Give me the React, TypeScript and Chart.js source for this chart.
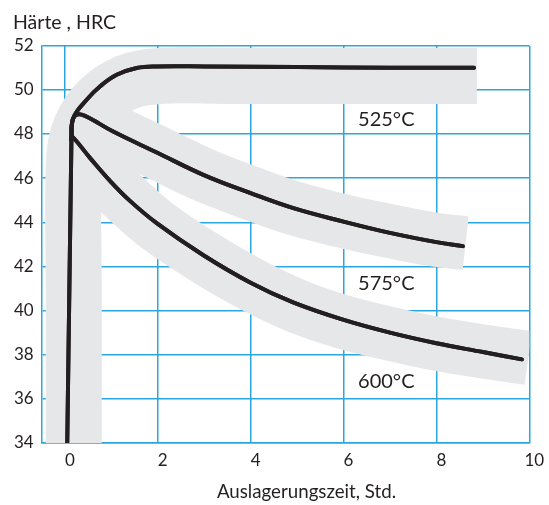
import React, { useEffect, useRef } from 'react';
import { Chart, registerables } from 'chart.js';

Chart.register(...registerables);

// ---- text ----
const yAxisTitle = 'Härte , HRC';
const xAxisTitle = 'Auslagerungszeit, Std.';

// ---- axes ----
const xMin = -0.5;
const xMax = 10;
const xTickValues = [0, 2, 4, 6, 8, 10];
const yMin = 34;
const yMax = 52;
const yStep = 2;

// ---- measured curves: [time h, hardness HRC] ----
// common steep rise shared by all three temperatures
const commonRise: [number, number][] = [[0.05, 34], [0.14, 47.74]];
const curve525: [number, number][] = [
  [0.14, 47.74], [0.183, 48.73], [0.468, 49.55], [0.754, 50.15], [1.114, 50.68],
  [1.545, 50.99], [1.976, 51.06], [3, 51.06], [5, 51.03], [7, 51.0], [8.81, 51.0],
];
const curve575: [number, number][] = [
  [0.14, 47.74], [0.155, 48.55], [0.252, 48.87], [0.431, 48.82], [1.04, 48.11],
  [1.98, 47.16], [2.98, 46.15], [4, 45.32], [4.92, 44.64], [6, 44.03], [7, 43.52],
  [8, 43.1], [8.57, 42.92],
];
const curve600: [number, number][] = [
  [0.14, 47.74], [0.157, 47.88], [0.539, 46.92], [0.97, 45.88], [1.401, 44.97],
  [1.983, 43.95], [2.974, 42.52], [4.009, 41.25], [4.914, 40.37], [5.97, 39.6],
  [7, 39.0], [8, 38.52], [9, 38.12], [9.84, 37.79],
];

// ---- scatter bands (centre lines) ----
const band525: [number, number][] = [
  [0.19, 34], [0.19, 41], [0.194, 46.78], [0.334, 48.26], [0.731, 49.51],
  [1.325, 50.34], [2.026, 50.63], [3.5, 50.63], [8.87, 50.63],
];
const band575: [number, number][] = [
  [0.43, 48.82], [1.04, 48.11], [1.98, 47.16], [2.98, 46.15], [4, 45.32], [4.92, 44.64],
  [6, 44.05], [7, 43.6], [8, 43.2], [8.63, 43.05],
];
const band600: [number, number][] = [
  [0.2, 47.55], [0.539, 46.85], [0.97, 45.8], [1.401, 44.9], [1.983, 43.85], [2.974, 42.45],
  [4, 41.2], [5, 40.2], [6, 39.48], [7, 38.95], [8, 38.5], [9, 38.15], [9.98, 37.85],
];

// ---- curve labels ----
const tempLabels = ['525°C', '575°C', '600°C'];
const tempLabelX = [6.92, 6.92, 6.92];
const tempLabelY = [48.64, 41.24, 36.8];

// ---- styles ----
const INK = '#231f20';
const GRID = '#2ba6de';
const BAND = '#e6e7e8';
const FONT = 'Lato';

const toXY = (pts: [number, number][]) => pts.map(([x, y]) => ({ x, y }));

const overlayPlugin = {
  id: 'overlay',
  afterDraw(chart: any) {
    const { ctx, chartArea, scales } = chart;
    // redraw the black curves above the grid
    ctx.save();
    ctx.beginPath();
    ctx.rect(chartArea.left, chartArea.top, chartArea.right - chartArea.left, chartArea.bottom - chartArea.top);
    ctx.clip();
    chart.data.datasets.forEach((ds: any, i: number) => {
      if (ds.isCurve) chart.getDatasetMeta(i).controller.draw();
    });
    ctx.restore();

    ctx.save();
    ctx.fillStyle = INK;
    ctx.textAlign = 'center';
    ctx.textBaseline = 'middle';
    ctx.font = `20px ${FONT}`;
    tempLabels.forEach((t, i) => {
      ctx.fillText(t, scales.x.getPixelForValue(tempLabelX[i]), scales.y.getPixelForValue(tempLabelY[i]));
    });
    // x axis title
    ctx.font = `18.7px ${FONT}`;
    ctx.fillText(xAxisTitle, (chartArea.left + chartArea.right) / 2 + 21, chartArea.bottom + 49);
    ctx.restore();
  },
};

export default function App() {
  const ref = useRef<HTMLCanvasElement | null>(null);

  useEffect(() => {
    if (!ref.current) return;
    const curveDs = (pts: [number, number][], label: string) => ({
      label,
      data: toXY(pts),
      borderColor: INK,
      borderWidth: 4,
      borderCapStyle: 'round' as const,
      borderJoinStyle: 'round' as const,
      pointRadius: 0,
      tension: 0.4,
      fill: false,
      isCurve: true,
      clip: 0,
    });
    const bandDs = (pts: [number, number][], label: string, width: number) => ({
      label,
      data: toXY(pts),
      borderColor: BAND,
      borderWidth: width,
      borderCapStyle: 'butt' as const,
      borderJoinStyle: 'round' as const,
      pointRadius: 0,
      tension: 0.35,
      fill: false,
      clip: 0,
    });

    const chart = new Chart(ref.current, {
      type: 'line',
      data: {
        datasets: [
          curveDs(commonRise, 'rise'),
          curveDs(curve525, '525°C'),
          curveDs(curve575, '575°C'),
          curveDs(curve600, '600°C'),
          bandDs(band525, 'band 525', 56),
          bandDs(band575, 'band 575', 54),
          bandDs(band600, 'band 600', 54),
        ] as any,
      },
      options: {
        animation: false,
        responsive: false,
        devicePixelRatio: 1,
        layout: { padding: { left: 13, right: 19.7, top: 0, bottom: 0 } },
        plugins: {
          legend: { display: false },
          tooltip: { enabled: false },
          title: {
            display: true,
            text: yAxisTitle,
            align: 'start',
            color: INK,
            font: { family: FONT, size: 19.5, weight: 'normal' },
            padding: { top: 11, bottom: 11.3 },
          },
        },
        scales: {
          x: {
            type: 'linear',
            min: xMin,
            max: xMax,
            z: 1,
            afterBuildTicks: (scale: any) => {
              scale.ticks = xTickValues.map((v) => ({ value: v }));
            },
            afterFit: (scale: any) => {
              scale.height = 62;
            },
            grid: { color: GRID, lineWidth: 1.5, drawTicks: false },
            border: { color: GRID, width: 1.5 },
            ticks: {
              color: INK,
              font: { family: FONT, size: 17 },
              padding: 7,
              labelOffset: 5,
              maxRotation: 0,
            },
            title: { display: false, text: xAxisTitle },
          },
          y: {
            type: 'linear',
            min: yMin,
            max: yMax,
            z: 1,
            afterFit: (scale: any) => {
              scale.width = 28.7;
            },
            grid: { color: GRID, lineWidth: 1.5, drawTicks: false },
            border: { color: GRID, width: 1.5 },
            ticks: {
              stepSize: yStep,
              color: INK,
              font: { family: FONT, size: 17 },
              padding: 8,
            },
          },
        },
      } as any,
      plugins: [overlayPlugin],
    });
    return () => chart.destroy();
  }, []);

  return (
    <div style={{ position: 'absolute', left: 0, top: 0, width: 549, height: 505, background: '#fff' }}>
      <canvas ref={ref} width={549} height={505} />
    </div>
  );
}
